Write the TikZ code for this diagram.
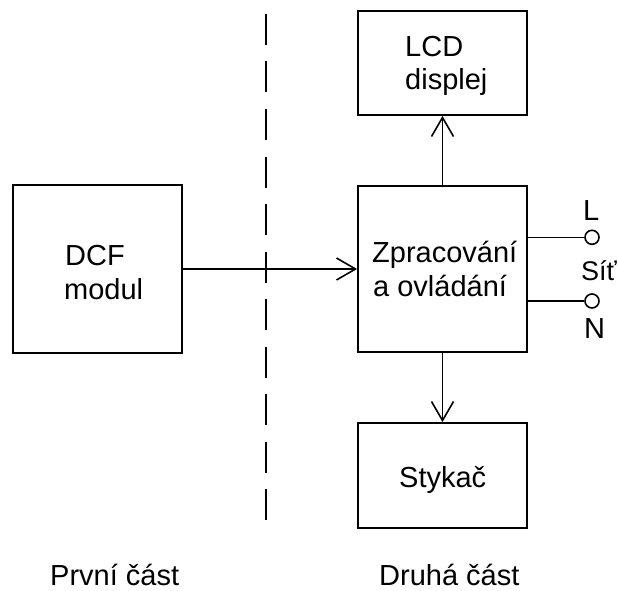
\documentclass[tikz,border=0pt]{standalone}
\usepackage{fontspec}
\setmainfont{Liberation Sans}
\usetikzlibrary{arrows.meta}
\begin{document}
\begin{tikzpicture}[x=1pt,y=-1pt,
  box/.style={draw,line width=1.8pt,minimum width=169pt,inner sep=0pt},
  txt/.style={anchor=base west,inner sep=0pt,font=\fontsize{29}{34}\selectfont},
  conn/.style={line width=1.6pt,-{Straight Barb[length=19pt,width=22pt,line width=1.6pt]}},
  wire/.style={line width=1.6pt},
  term/.style={circle,draw,line width=1.6pt,minimum size=14pt,inner sep=0pt,fill=white},
  divider/.style={line width=1.8pt,dash pattern=on 31pt off 16.5pt}]
\useasboundingbox (0,0) rectangle (618,591);
\fill[white] (0,0) rectangle (618,591);
% boxes
\node[box,minimum height=168pt] (dcf) at (97.5,269) {};
\node[box,minimum height=166pt] (zpr) at (442.5,269) {};
\node[box,minimum height=104pt] (lcd) at (442.5,63) {};
\node[box,minimum height=105pt] (sty) at (442.5,475.5) {};
% box texts
\node[txt] (dcfa) at (65,265) {DCF};
\node[txt] (dcfb) at (64,299) {modul};
\node[txt] (lcda) at (405,57) {LCD};
\node[txt] (lcdb) at (405,90) {displej};
\node[txt] (zpra) at (372,262) {Zpracování};
\node[txt] (zprb) at (373,296) {a ovládání};
\node[txt] (stya) at (399,487) {Stykač};
% divider
\coordinate (dtop) at (266,14);
\coordinate (dbot) at (266,521);
\draw[divider] (dtop) -- (dbot);
% connectors
\draw[conn] (dcf.east) -- (zpr.west);
\draw[conn] (zpr.north) -- (lcd.south);
\draw[conn] (zpr.south) -- (sty.north);
% mains terminals
\node[term] (tl) at (592,237.3) {};
\node[term] (tn) at (592,301) {};
\draw[wire] (tl.west -| zpr.east) -- (tl.west);
\draw[wire] (tn.west -| zpr.east) -- (tn.west);
\node[txt] (ll) at (583,220) {L};
\node[txt,font=\fontsize{27}{32}\selectfont] (sit) at (581,280.5) {Síť};
\node[txt] (nn) at (584,338) {N};
% part labels
\node[txt] (prvni) at (50,585) {První část};
\node[txt] (druha) at (379,585) {Druhá část};
\end{tikzpicture}
\end{document}
